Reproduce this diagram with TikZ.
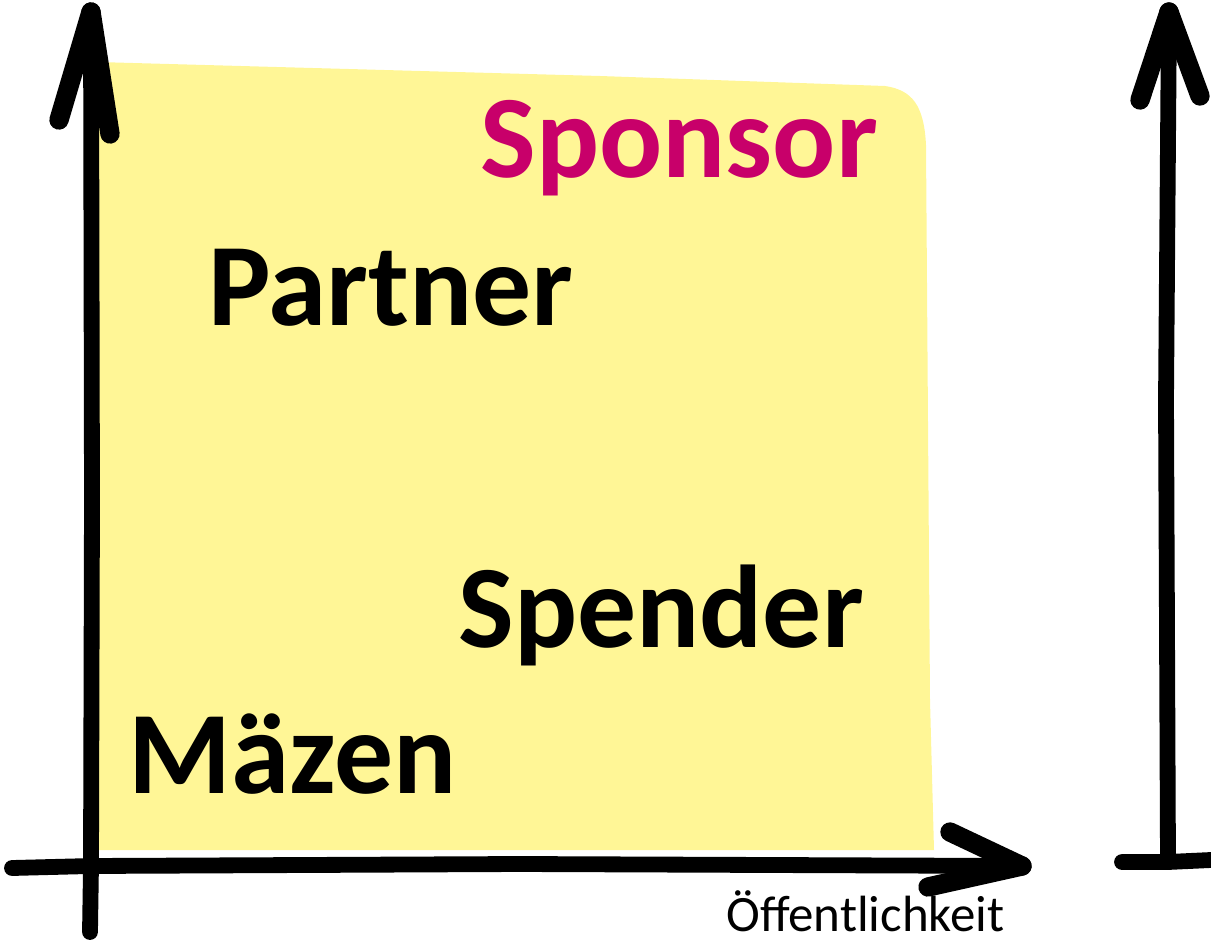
\documentclass[tikz,border=0pt]{standalone}
\usepackage{fontspec}
\setmainfont{Carlito}
\usepackage{tikz}
\definecolor{sponsorpink}{RGB}{200,0,106}
\definecolor{notepad}{RGB}{255,246,150}

\begin{document}
\begin{tikzpicture}[x=0.02cm, y=-0.02cm, line cap=round, line join=round,
  every node/.style={inner sep=0pt, anchor=base west},
  role/.style={font=\fontsize{67}{67}\selectfont\bfseries},
  pen/.style={line width=9pt}, barb/.style={line width=11pt}]
  \useasboundingbox (0,0) rectangle (1211,946);
  \fill[notepad] (97,62) -- (600,76) -- (885,86) .. controls (912,90) and (924,105) .. (926,145) -- (930,700) -- (934,850) -- (97,850) -- cycle;

  \coordinate (origin) at (91,866);
  \coordinate (ytip) at (91,12);
  \coordinate (xtip) at (1022,866);
  \coordinate (rtip) at (1169,12);
  \coordinate (rfoot) at (1168,862);

  \draw[pen] (90,932) -- (origin) -- (92,500) -- (ytip);
  \draw[barb] (ytip) -- (59,120);
  \draw[barb] (ytip) -- (110,134);
  \draw[pen] (12,868) -- (origin) -- (520,864) -- (xtip);
  \draw[barb] (xtip) -- (950,832);
  \draw[barb] (xtip) -- (928,887);
  \draw[pen] (rfoot) -- (1166,400) -- (rtip);
  \draw[barb] (rtip) -- (1140,100);
  \draw[barb] (rtip) -- (1200,96);
  \draw[pen] (1122,862) -- (rfoot) -- (1211,860);

  \node[role, text=sponsorpink] (sponsor) at (480,177) {Sponsor};
  \node[role] (partner) at (208,325) {Partner};
  \node[role] (spender) at (458,647) {Spender};
  \node[role] (maezen) at (128,793) {Mäzen};
  \node[font=\fontsize{29}{29}\selectfont] (oeff) at (726,931) {Öffentlichkeit};
\end{tikzpicture}
\end{document}
